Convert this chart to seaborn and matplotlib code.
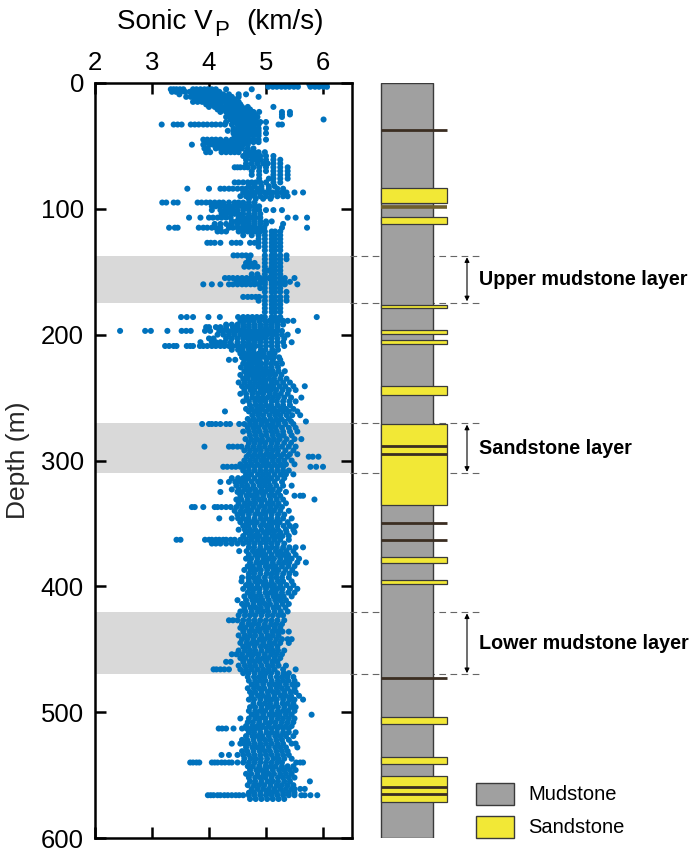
import matplotlib
matplotlib.use("Agg")
import matplotlib.pyplot as plt
import numpy as np
import pandas as pd
import seaborn as sns
from matplotlib.patches import Rectangle

# ---------------------------------------------------------------------------
# Sonic log.  Each row: depth (m) followed by P-wave velocities in 0.01 km/s
# ---------------------------------------------------------------------------
log_0_100 = [
    (1, 505, 511, 517, 523, 529, 536, 542, 548, 555, 576, 582, 588, 594, 600, 606),
    (3, 504, 512, 519, 527, 534, 541, 549, 556, 578, 586, 593, 601, 607),
    (5, 333, 338, 343, 349, 355, 372, 378, 385, 392, 398, 405, 412, 430, 475),
    (7, 335, 342, 350, 358, 366, 373, 380, 388, 395, 402, 410, 418),
    (9, 348, 370, 378, 385, 392, 400, 408, 415, 425, 435, 452, 465),
    (11, 360, 368, 375, 382, 390, 397, 405, 412, 420, 428, 440, 452, 487),
    (13, 375, 382, 390, 398, 405, 412, 420, 428, 435, 445),
    (15, 372, 380, 388, 395, 405, 415, 422, 430, 440, 452),
    (17, 395, 405, 412, 420, 430, 438, 445, 455),
    (19, 400, 410, 420, 428, 435, 442, 450, 458, 468, 513),
    (21, 415, 425, 432, 440, 448, 455, 462, 472),
    (23, 420, 430, 438, 445, 452, 460, 468, 478, 488, 528, 542),
    (25, 435, 442, 450, 458, 465, 472, 480, 528, 542),
    (27, 430, 440, 448, 455, 462, 470, 478, 485, 528),
    (29, 438, 445, 452, 460, 468, 475, 482, 601),
    (31, 430, 445, 452, 460, 468, 475, 482, 490, 500),
    (33, 317, 338, 345, 352, 368, 375, 382, 390, 397, 405, 412, 420, 428, 440,
     450, 458, 465, 472, 480, 487, 522, 528),
    (36, 443, 452, 460, 469, 478, 487, 500),
    (38, 433, 443, 452, 460, 469, 478, 487),
    (40, 443, 452, 460, 469, 478, 487, 500),
    (42, 445, 452, 460, 469, 478, 487),
    (45, 390, 397, 405, 412, 420, 430, 440, 448, 455, 462, 470, 478, 487, 500),
    (47, 395, 402, 410, 418, 425, 433, 440, 450, 460, 469, 478, 487),
    (49, 370, 390, 400, 407, 415, 422, 430, 438, 445, 452, 460, 468),
    (52, 392, 398, 412, 420, 428, 435, 442, 450, 458, 468, 478),
    (55, 395, 402, 422, 430, 438, 445, 452, 465, 472, 480, 487, 498),
    (58, 460, 468, 475, 482, 490, 500, 513),
    (61, 465, 475, 482, 490, 500, 513, 525),
    (64, 465, 475, 485, 495, 503, 513, 525),
    (67, 445, 450, 455, 462, 468, 478, 488, 500, 513, 525, 538),
    (70, 475, 488, 500, 513, 525, 538),
    (73, 475, 488, 513, 525, 538),
    (76, 488, 505, 513, 525, 538),
    (79, 445, 452, 460, 468, 475, 482, 490, 500, 513, 525),
    (82, 470, 480, 492, 505, 515),
    (84, 362, 400, 420, 427, 435, 442, 450, 458, 465, 475, 485, 492, 505, 520, 530),
    (87, 460, 468, 475, 482, 490, 498, 505, 512, 520, 528, 536, 550, 565),
    (90, 455, 465, 472, 480, 490, 500, 510, 520, 530, 538),
    (92, 470, 482, 495, 508),
    (95, 318, 325, 338, 345, 380, 387, 395, 402, 410, 418, 425, 435, 445, 452,
     460, 470, 480),
    (98, 405, 412, 420, 428, 435, 442, 450, 458, 465, 472, 480, 488),
]

log_100_212 = [
    (101, 405, 420, 428, 435, 442, 450, 460, 470, 480, 488, 500, 513, 528),
    (104, 422, 430, 438, 445, 452, 460, 470, 480, 490),
    (107, 365, 385, 400, 407, 415, 422, 430, 438, 452, 460, 468, 475, 482, 490,
     538, 552, 572),
    (110, 440, 448, 455, 462, 470, 480, 490, 500, 510),
    (112, 410, 420, 430, 440, 450, 460, 470, 480, 490, 500, 530),
    (115, 330, 340, 345, 382, 390, 397, 405, 412, 420, 435, 442, 450, 458, 466,
     474, 482, 490, 497, 528, 572),
    (118, 415, 422, 430, 452, 460, 468, 475, 482, 490, 498, 510, 516, 525),
    (121, 460, 475, 487, 498, 510, 516, 525),
    (124, 487, 498, 510, 516, 525),
    (127, 397, 403, 410, 420, 440, 448, 455, 472, 480, 487, 498, 510, 516, 525),
    (130, 487, 498, 510, 516, 525),
    (133, 498, 510, 516, 525),
    (137, 443, 450, 458, 465, 473, 498, 510, 516, 525, 536),
    (140, 470, 498, 510, 516, 525, 536),
    (143, 465, 472, 480, 498, 510, 516, 525),
    (146, 462, 470, 478, 485, 498, 510, 516, 525),
    (149, 498, 505, 510, 516, 525),
    (152, 475, 485, 498, 510, 516, 525),
    (155, 428, 435, 442, 450, 458, 466, 474, 482, 490, 498, 505, 510, 516, 525,
     533, 550),
    (158, 448, 455, 463, 470, 480, 490, 498, 510, 516, 525, 533, 542),
    (160, 390, 405, 420, 435, 442, 450, 458, 465, 473, 480, 488, 498, 510, 516,
     525, 533, 555),
    (163, 490, 498, 510, 516, 525),
    (166, 498, 510, 516, 525, 536),
    (170, 460, 468, 475, 482, 488, 498, 510, 516, 525, 536),
    (173, 487, 498, 510, 516, 525, 536),
    (176, 498, 510, 516, 525),
    (179, 498, 510, 516, 525),
    (182, 498, 510, 516, 525),
    (186, 351, 361, 372, 399, 419, 451, 460, 468, 476, 484, 492, 498, 510, 516,
     525, 589),
    (189, 455, 462, 470, 478, 488, 498, 506, 514, 522, 530, 538, 548),
    (192, 430, 440, 450, 460, 470, 480, 490, 500, 510, 520, 530),
    (194, 395, 400, 412, 420, 430, 442, 450, 460, 470, 480, 490, 500, 510, 520),
    (197, 244, 288, 298, 327, 352, 360, 368, 393, 402, 418, 425, 433, 440, 448,
     456, 464, 472, 480, 488, 496, 504, 512, 520, 528, 556),
    (200, 415, 425, 435, 445, 455, 462, 470, 478, 486, 494, 502, 510, 518, 528, 538),
    (203, 400, 408, 430, 440, 450, 460, 468, 476, 484, 492, 500, 510, 520, 532),
    (206, 385, 405, 412, 420, 428, 438, 450, 460, 470, 480, 490, 500, 510, 520,
     530, 545),
    (209, 323, 330, 338, 343, 361, 367, 372, 384, 390, 397, 405, 412, 420, 427,
     435, 442, 450, 458, 466, 474, 482, 490, 500, 510, 520, 532),
]

log_212_310 = [
    (212, 440, 451, 459, 470, 478, 491, 499, 511, 521),
    (215, 455, 463, 471, 479, 487, 496, 506, 515),
    (218, 458, 467, 474, 483, 490, 499, 507, 514, 523),
    (220, 435, 446, 462, 471, 480, 489, 501, 512, 525),
    (223, 460, 469, 476, 485, 492, 500, 509, 518, 528),
    (226, 456, 466, 475, 483, 491, 500, 510, 521),
    (229, 462, 471, 479, 486, 495, 503, 512, 522, 533),
    (232, 455, 466, 474, 483, 490, 498, 507, 516, 527),
    (235, 460, 468, 478, 487, 496, 505, 514, 525, 536),
    (238, 452, 462, 472, 481, 490, 499, 510, 519, 530, 542),
    (241, 458, 468, 477, 486, 495, 504, 513, 524, 534, 548, 568),
    (244, 462, 473, 480, 491, 500, 509, 518, 529, 540, 552),
    (247, 455, 465, 476, 486, 495, 506, 516, 526, 538),
    (250, 466, 476, 485, 494, 503, 512, 521, 532, 544, 562),
    (253, 460, 470, 481, 490, 499, 510, 519, 530, 541, 552),
    (256, 472, 482, 491, 500, 509, 520, 530, 542),
    (259, 465, 475, 485, 494, 505, 514, 525, 535, 548),
    (261, 428, 470, 480, 489, 500, 511, 520, 530, 540, 555),
    (264, 476, 486, 495, 506, 516, 525, 536, 546, 560),
    (267, 468, 478, 488, 497, 508, 518, 527, 540),
    (269, 472, 482, 492, 501, 512, 521, 532, 544, 570),
    (271, 388, 400, 405, 412, 420, 430, 437, 453, 462, 472, 482, 492, 502, 512,
     522, 534, 548),
    (274, 468, 478, 487, 498, 508, 517, 528, 540, 552),
    (277, 460, 470, 480, 489, 500, 510, 519, 530, 542, 555),
    (280, 472, 482, 492, 501, 512, 522, 531, 545),
    (283, 464, 474, 484, 493, 504, 514, 524, 536, 550, 562),
    (286, 470, 480, 490, 499, 510, 520, 532, 544),
    (289, 392, 435, 442, 450, 457, 468, 478, 488, 498, 508, 518, 528, 540, 552),
    (292, 462, 472, 482, 491, 502, 512, 521, 534, 548),
    (295, 470, 480, 490, 500, 509, 520, 530, 542, 555),
    (297, 466, 476, 486, 496, 506, 515, 526, 538, 575, 582, 592),
    (300, 462, 472, 482, 492, 501, 512, 522, 532, 545),
    (303, 455, 465, 475, 485, 495, 505, 515, 525, 535, 550),
    (305, 425, 432, 440, 447, 455, 462, 470, 480, 490, 500, 510, 520, 530,
     578, 588, 600),
    (308, 460, 470, 480, 490, 500, 510, 520, 530, 540),
]

log_310_400 = [
    (311, 465, 474, 486, 495, 504, 515, 526, 535, 548),
    (314, 440, 451, 460, 469, 480, 491, 500, 509, 520, 532),
    (317, 420, 435, 446, 455, 464, 475, 486, 495, 504, 515, 528),
    (320, 448, 458, 467, 478, 489, 498, 507, 518, 530, 545),
    (323, 440, 452, 463, 472, 481, 492, 503, 512, 524),
    (325, 420, 450, 459, 470, 481, 490, 499, 510, 521, 535),
    (328, 455, 466, 475, 484, 495, 506, 515, 525, 550, 560, 565),
    (331, 448, 457, 468, 479, 488, 497, 508, 519, 530, 585),
    (334, 452, 463, 472, 481, 492, 503, 512, 522, 535),
    (337, 370, 375, 390, 410, 415, 422, 430, 438, 448, 458, 468, 478, 488, 498,
     508, 518, 528),
    (340, 445, 456, 465, 474, 485, 496, 505, 514, 525, 540),
    (343, 450, 459, 470, 481, 490, 499, 510, 521, 532),
    (346, 418, 440, 451, 460, 469, 480, 491, 500, 509, 520, 530, 545),
    (349, 455, 466, 475, 484, 495, 506, 515, 524, 538),
    (352, 460, 469, 480, 491, 500, 509, 520, 531, 542, 552),
    (355, 452, 463, 472, 481, 492, 503, 512, 521, 535, 548),
    (357, 465, 474, 485, 496, 505, 514, 525, 536, 550),
    (360, 460, 471, 480, 489, 500, 511, 520, 529, 540),
    (363, 343, 350, 393, 400, 405, 412, 418, 425, 430, 438, 445, 455, 465, 475,
     485, 495, 505, 515, 525, 540),
    (366, 405, 412, 420, 430, 440, 450, 460, 470, 480, 490, 500, 510, 520, 532),
    (369, 470, 479, 490, 501, 510, 519, 530, 541, 552, 565),
    (372, 453, 466, 477, 486, 495, 506, 517, 526, 536, 548),
    (375, 470, 481, 490, 499, 510, 521, 530, 539, 552),
    (378, 465, 474, 485, 496, 505, 514, 525, 536, 545, 558),
    (381, 472, 483, 492, 501, 512, 523, 532, 541, 555, 570),
    (384, 468, 477, 488, 499, 508, 517, 528, 539, 550),
    (387, 462, 473, 482, 491, 502, 513, 522, 534, 546),
    (390, 470, 479, 490, 501, 510, 519, 530, 541, 552),
    (393, 458, 469, 478, 487, 498, 509, 518, 528, 540),
    (396, 457, 470, 481, 490, 499, 510, 521, 530, 545),
    (399, 465, 474, 485, 496, 505, 514, 525, 536, 548),
]

log_400_500 = [
    (402, 460, 471, 480, 489, 500, 511, 520, 529, 542, 555),
    (405, 468, 477, 488, 499, 508, 517, 528, 539, 550),
    (408, 462, 473, 482, 491, 502, 513, 522, 531, 545),
    (411, 450, 465, 476, 485, 494, 505, 516, 525, 535),
    (414, 458, 467, 478, 489, 498, 507, 518, 529, 540),
    (417, 462, 473, 482, 491, 502, 513, 522, 534),
    (420, 455, 464, 475, 486, 495, 504, 515, 526, 538),
    (423, 452, 463, 472, 481, 492, 503, 512, 522, 530),
    (427, 435, 442, 450, 460, 470, 480, 490, 500, 510, 520, 532),
    (430, 458, 469, 478, 487, 498, 509, 518, 528),
    (433, 455, 464, 475, 486, 495, 504, 515, 525),
    (436, 460, 471, 480, 489, 500, 511, 520, 529, 540),
    (439, 452, 463, 472, 481, 492, 503, 512, 522),
    (442, 458, 467, 478, 489, 498, 507, 518, 528, 538, 545),
    (445, 455, 466, 475, 484, 495, 506, 515, 525, 540),
    (448, 460, 469, 480, 491, 500, 509, 520),
    (451, 452, 463, 472, 481, 492, 503, 512, 521, 532),
    (454, 440, 448, 458, 469, 478, 487, 498, 509, 518, 528),
    (457, 455, 464, 475, 486, 495, 504, 515, 525),
    (460, 430, 438, 460, 471, 480, 489, 500, 511, 520),
    (463, 452, 463, 472, 481, 492, 503, 512, 522, 535),
    (466, 408, 413, 420, 427, 435, 455, 465, 475, 485, 495, 505, 515, 530, 552),
    (469, 460, 469, 480, 491, 500, 509, 520, 531, 540),
    (472, 468, 479, 488, 497, 508, 519, 528, 537, 548),
    (475, 470, 481, 490, 499, 510, 521, 530, 539, 550),
    (478, 475, 484, 495, 506, 515, 524, 535, 546, 555),
    (481, 468, 479, 488, 497, 508, 519, 528, 538, 550),
    (484, 472, 481, 492, 503, 512, 521, 532, 543, 552),
    (487, 475, 486, 495, 504, 515, 526, 535, 544, 558),
    (490, 470, 479, 490, 501, 510, 519, 530, 541, 550, 565),
    (493, 478, 489, 498, 507, 518, 529, 538, 548),
    (496, 472, 481, 492, 503, 512, 521, 532, 543, 552),
    (499, 470, 481, 490, 499, 510, 521, 530, 539, 550),
]

log_500_570 = [
    (502, 475, 484, 495, 506, 515, 524, 535, 545, 580),
    (505, 455, 470, 481, 490, 499, 510, 521, 530, 540, 550),
    (508, 468, 477, 488, 499, 508, 517, 528, 538, 548),
    (511, 465, 476, 485, 494, 505, 516, 525, 535, 545),
    (513, 417, 423, 430, 443, 458, 466, 474, 482, 490, 500, 510, 520, 530, 540),
    (516, 470, 479, 490, 501, 510, 519, 530, 540, 552),
    (519, 465, 476, 485, 494, 505, 516, 525, 535, 548),
    (522, 458, 467, 478, 489, 498, 507, 518, 528, 540),
    (525, 440, 455, 462, 470, 480, 490, 500, 510, 520, 530, 545, 552),
    (528, 465, 476, 485, 494, 505, 516, 525, 535, 555),
    (531, 458, 467, 478, 489, 498, 507, 518, 528, 538),
    (534, 422, 435, 450, 460, 470, 480, 490, 500, 510, 520, 530, 540),
    (537, 462, 473, 482, 491, 502, 513, 522, 532, 545),
    (540, 367, 372, 378, 383, 405, 410, 415, 422, 428, 435, 440, 450, 460, 470,
     480, 490, 500, 510, 520, 528, 553, 560, 565),
    (543, 468, 477, 488, 499, 508, 517, 528, 538, 548),
    (546, 472, 483, 492, 501, 512, 523, 532, 542, 552),
    (549, 465, 474, 485, 496, 505, 514, 525, 535, 545),
    (552, 470, 481, 490, 499, 510, 521, 530, 540, 550),
    (555, 472, 481, 492, 503, 512, 521, 532, 542, 577),
    (558, 468, 479, 488, 497, 508, 519, 528, 538, 548),
    (561, 475, 485, 495, 505, 515, 525, 535, 545, 550, 560, 568),
    (564, 470, 479, 490, 501, 510, 519, 530, 540, 550),
    (566, 398, 403, 408, 415, 420, 427, 433, 440, 447, 453, 460, 470, 480, 490,
     500, 510, 520, 530, 540, 550, 562, 568, 578, 590),
    (569, 472, 482, 492, 502, 512, 522, 532),
]

# Lithology column (depths in m)
sand_top = [83.5, 106.5, 176.4, 196.3, 204.6, 241.0, 271.0, 377.0,
            395.0, 504.0, 535.5, 551.0]
sand_base = [95.0, 112.3, 179.2, 199.8, 207.4, 248.3, 335.5, 381.8,
             397.8, 509.8, 541.3, 571.0]
seam_depth = [37.0, 288.5, 294.6, 350.0, 363.4, 472.6, 559.6, 565.2]
olive_seam_depth = [98.4]

# Intervals of interest
zone_top = [137.5, 270.5, 420.5]
zone_base = [174.5, 310.0, 470.0]
zone_names = ["Upper mudstone layer", "Sandstone layer", "Lower mudstone layer"]

legend_names = ["Mudstone", "Sandstone"]

vp_ticks = [2, 3, 4, 5, 6]
depth_ticks = [0, 100, 200, 300, 400, 500, 600]

# ---------------------------------------------------------------------------
sns.set_theme(style="ticks")
plt.rcParams["font.family"] = ["Liberation Sans", "DejaVu Sans"]

BLUE = "#0072BD"
BAND = "#d9d9d9"
MUD = "#a0a0a0"
SAND = "#f2e836"
EDGE = "#3a3a3a"
SEAM = "#3b2e22"
OLIVE = "#6e5f2c"

rows = log_0_100 + log_100_212 + log_212_310 + log_310_400 + log_400_500 + log_500_570
depth_vals, vp_vals = [], []
for row in rows:
    for v in row[1:]:
        depth_vals.append(row[0])
        vp_vals.append(v / 100.0)
df = pd.DataFrame({"depth": depth_vals, "vp": vp_vals})

W, H = 690, 852
fig = plt.figure(figsize=(W / 100, H / 100), dpi=100)

top_px, bot_px = 83, 838
ax = fig.add_axes([95 / W, (H - bot_px) / H, 256.5 / W, (bot_px - top_px) / H])

for t, b in zip(zone_top, zone_base):
    ax.axhspan(t, b, color=BAND, lw=0, zorder=0)

sns.scatterplot(data=df, x="vp", y="depth", ax=ax, s=19, color=BLUE,
                edgecolor="none", linewidth=0, legend=False, zorder=2)

ax.set_xlim(2, 6.5)
ax.set_ylim(600, 0)
ax.set_xticks(vp_ticks)
ax.set_yticks(depth_ticks)
ax.tick_params(axis="both", direction="in", length=8, width=1.8,
               top=True, right=True, bottom=True, left=True,
               labeltop=True, labelbottom=False, labelsize=18.5, colors="black")
ax.tick_params(axis="x", pad=6)
ax.tick_params(axis="y", pad=8)
ax.set_xlabel("")
ax.set_ylabel("Depth (m)", fontsize=19, labelpad=8)
for sp in ax.spines.values():
    sp.set_linewidth(1.8)
    sp.set_color("black")

# Axis title with a near full-size, lowered subscript
t_main = fig.text(117 / W, 1 - 29 / H, "Sonic V", fontsize=20,
                  ha="left", va="baseline", color="black")
t_sub = fig.text(0, 0, "P", fontsize=16, color="black", ha="left",
                 va="baseline",
                 transform=matplotlib.transforms.offset_copy(
                     fig.transFigure, fig=fig, x=0, y=0))
fig.canvas.draw()
bb = t_main.get_window_extent()
t_sub.set_transform(matplotlib.transforms.IdentityTransform())
t_sub.set_position((bb.x1 + 1, bb.y0 + bb.height * 0.22 - 7))
sb = t_sub.get_window_extent()
fig.text(sb.x1 + 18, bb.y0 + bb.height * 0.22, "(km/s)", fontsize=20,
         ha="left", va="baseline", color="black",
         transform=matplotlib.transforms.IdentityTransform())

# Lithology column and annotations share the depth scale
ax2 = fig.add_axes([350 / W, (H - bot_px) / H, 340 / W, (bot_px - top_px) / H])
ax2.set_xlim(350, 690)
ax2.set_ylim(600, 0)
ax2.axis("off")

col_l, col_r, sand_r = 381, 433, 447
for t, b in zip(zone_top, zone_base):
    for d in (t, b):
        ax2.plot([350, 483], [d, d], color="#666666", lw=0.8,
                 dashes=(6, 4), zorder=1, clip_on=False)

ax2.add_patch(Rectangle((col_l, 0), col_r - col_l, 600, facecolor=MUD,
                        edgecolor=EDGE, lw=1.0, zorder=2))
for t, b in zip(sand_top, sand_base):
    ax2.add_patch(Rectangle((col_l, t), sand_r - col_l, b - t, facecolor=SAND,
                            edgecolor=EDGE, lw=0.9, zorder=3))
for d in seam_depth:
    ax2.plot([col_l, sand_r], [d, d], color=SEAM, lw=2.0,
             solid_capstyle="butt", zorder=4)
for d in olive_seam_depth:
    ax2.plot([col_l, sand_r], [d, d], color=OLIVE, lw=2.6,
             solid_capstyle="butt", zorder=4)

for t, b, name in zip(zone_top, zone_base, zone_names):
    ax2.annotate("", xy=(467, t + 1), xytext=(467, b - 1),
                 arrowprops=dict(arrowstyle="<|-|>", color="black", lw=0.8,
                                 mutation_scale=7, shrinkA=0, shrinkB=0),
                 zorder=5)
    ax2.text(479, (t + b) / 2, name, fontsize=14.2, fontweight="bold",
             ha="left", va="center", color="black")

# Legend
leg_colors = [MUD, SAND]
leg_top = [556.4, 582.7]
for name, c, t in zip(legend_names, leg_colors, leg_top):
    ax2.add_patch(Rectangle((476, t), 38, 17.4, facecolor=c, edgecolor=EDGE,
                            lw=1.0, zorder=3, clip_on=False))
    ax2.text(528, t + 8.7, name, fontsize=14.5, ha="left", va="center",
             color="black")

fig.savefig("out.png", dpi=100)
